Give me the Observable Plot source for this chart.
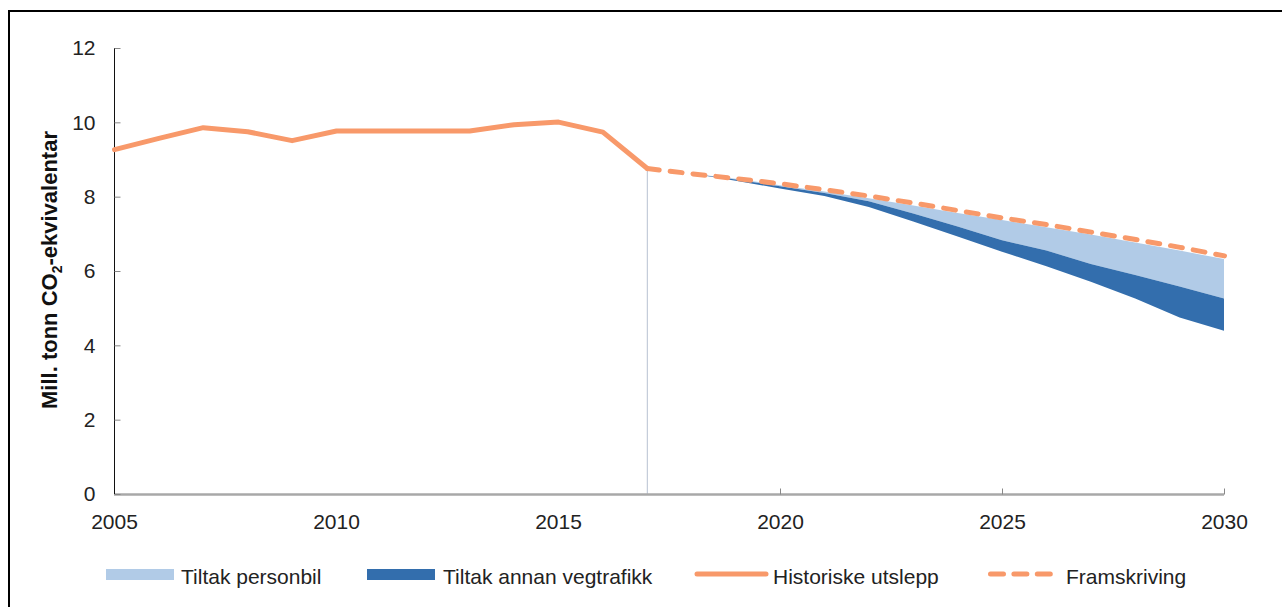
<!DOCTYPE html>
<html>
<head>
<meta charset="utf-8">
<script src="https://cdn.jsdelivr.net/npm/d3@7"></script>
<script src="https://cdn.jsdelivr.net/npm/@observablehq/plot@0.6"></script>
<style>
  html, body { margin: 0; padding: 0; background: #fff; }
  body { width: 1282px; height: 607px; position: relative; overflow: hidden;
         font-family: "Liberation Sans", Arial, sans-serif; color: #222; }
  #frame { position: absolute; left: 8px; top: 10px; width: 1400px; height: 800px;
           border: 2px solid #000; box-sizing: border-box; pointer-events: none; }
  #chart { position: absolute; left: 0; top: 0; }
  #legend { position: absolute; left: 0; top: 550px; }
</style>
</head>
<body>
<div id="chart"></div>
<div id="legend"></div>
<div id="frame"></div>
<script>
// ---- data ----
const histYears  = [2005, 2006, 2007, 2008, 2009, 2010, 2011, 2012, 2013, 2014, 2015, 2016, 2017];
const histValues = [9.28, 9.58, 9.87, 9.76, 9.52, 9.78, 9.78, 9.78, 9.78, 9.95, 10.02, 9.75, 8.77];

const projYears       = [2017, 2018, 2019, 2020, 2021, 2022, 2023, 2024, 2025, 2026, 2027, 2028, 2029, 2030];
const projValues      = [8.77, 8.63, 8.50, 8.36, 8.20, 8.03, 7.84, 7.64, 7.44, 7.26, 7.06, 6.86, 6.65, 6.42];
const personbilTop    = [8.77, 8.62, 8.48, 8.31, 8.14, 7.96, 7.76, 7.56, 7.37, 7.18, 6.98, 6.77, 6.55, 6.32];
const personbilBottom = [8.77, 8.62, 8.46, 8.28, 8.10, 7.88, 7.55, 7.20, 6.83, 6.55, 6.19, 5.89, 5.58, 5.26];
const annanBottom     = [8.77, 8.62, 8.43, 8.22, 8.02, 7.72, 7.33, 6.93, 6.52, 6.13, 5.71, 5.26, 4.75, 4.39];

const xTicks = [2005, 2010, 2015, 2020, 2025, 2030];
const xTickMarks = [2020, 2025, 2030];
const yTicks = [0, 2, 4, 6, 8, 10, 12];

const seriesNames = ["Tiltak personbil", "Tiltak annan vegtrafikk", "Historiske utslepp", "Framskriving"];
const yLabelParts = ["Mill. tonn CO", "2", "-ekvivalentar"];

// ---- colours ----
const cLight = "#b1cbe7", cDark = "#336ead", cLine = "#f8996a";

// ---- tables ----
const hist = histYears.map((year, i) => ({year, value: histValues[i]}));
const proj = projYears.map((year, i) => ({
  year, value: projValues[i], pt: personbilTop[i], pb: personbilBottom[i], ab: annanBottom[i]
}));

// short tick symbols drawn inward from the axes
const tickUp = {draw(ctx) { ctx.moveTo(0, 0); ctx.lineTo(0, -6); }};
const tickRight = {draw(ctx) { ctx.moveTo(0, 0); ctx.lineTo(6, 0); }};

const W = 1282, H = 550, mL = 114, mR = 58, mT = 48, mB = 56;
const xMin = xTicks[0], xMax = xTicks[xTicks.length - 1];

const chart = Plot.plot({
  width: W, height: H,
  marginLeft: mL, marginRight: mR, marginTop: mT, marginBottom: mB,
  style: {fontFamily: "'Liberation Sans', Arial, sans-serif", fontSize: "21px", color: "#222", background: "transparent", overflow: "visible"},
  x: {domain: [xMin, xMax]},
  y: {domain: [yTicks[0], yTicks[yTicks.length - 1]]},
  marks: [
    Plot.ruleX([histYears[histYears.length - 1]], {y1: 0, y2: histValues[histValues.length - 1], stroke: "#b7c1d1", strokeWidth: 1}),
    Plot.areaY(proj, {x: "year", y1: "pb", y2: "pt", fill: cLight}),
    Plot.areaY(proj, {x: "year", y1: "ab", y2: "pb", fill: cDark}),
    Plot.ruleY([0], {stroke: "#a8a8a8", strokeWidth: 2.5}),
    Plot.ruleX([xMin], {y1: yTicks[0], y2: yTicks[yTicks.length - 1], stroke: "#111", strokeWidth: 1}),
    Plot.dot(yTicks, {x: () => xMin, y: d => d, symbol: tickRight, r: 3, stroke: "#888", fill: "none", strokeWidth: 1}),
    Plot.dot(xTickMarks, {x: d => d, y: () => yTicks[0], symbol: tickUp, r: 3, stroke: "#888", fill: "none", strokeWidth: 1}),
    Plot.line(hist, {x: "year", y: "value", stroke: cLine, strokeWidth: 5, strokeLinejoin: "round", strokeLinecap: "round"}),
    Plot.line(proj, {x: "year", y: "value", stroke: cLine, strokeWidth: 5, strokeDasharray: "12,11", strokeLinecap: "round"}),
    Plot.axisY(yTicks, {tickSize: 0, tickPadding: 19, label: null, fontSize: 21}),
    Plot.axisX(xTicks, {tickSize: 0, tickPadding: 20, label: null, tickFormat: "d", fontSize: 21})
  ]
});
document.getElementById("chart").appendChild(chart);

// y-axis title with subscript
const svg = d3.select(chart.tagName.toLowerCase() === "svg" ? chart : chart.querySelector("svg"));
const yl = svg.append("text")
  .attr("transform", "translate(57,270) rotate(-90)")
  .attr("text-anchor", "middle")
  .attr("font-family", "'Liberation Sans', Arial, sans-serif")
  .attr("font-weight", "bold")
  .attr("font-size", 22)
  .attr("fill", "#111");
yl.append("tspan").text(yLabelParts[0]);
yl.append("tspan").attr("font-size", 14).attr("dy", 5).text(yLabelParts[1]);
yl.append("tspan").attr("dy", -5).text(yLabelParts[2]);

// legend
const lg = d3.select("#legend").append("svg").attr("width", W).attr("height", 57)
  .style("font-family", "'Liberation Sans', Arial, sans-serif").style("font-size", "21px");
const base = 34;
lg.append("rect").attr("x", 106).attr("y", 19).attr("width", 68).attr("height", 11).attr("fill", cLight);
lg.append("text").attr("x", 181).attr("y", base).attr("fill", "#222").text(seriesNames[0]);
lg.append("rect").attr("x", 367).attr("y", 19).attr("width", 68).attr("height", 11).attr("fill", cDark);
lg.append("text").attr("x", 443).attr("y", base).attr("fill", "#222").text(seriesNames[1]);
lg.append("line").attr("x1", 697).attr("x2", 766).attr("y1", 24).attr("y2", 24)
  .attr("stroke", cLine).attr("stroke-width", 5).attr("stroke-linecap", "round");
lg.append("text").attr("x", 773).attr("y", base).attr("fill", "#222").text(seriesNames[2]);
lg.append("line").attr("x1", 990.5).attr("x2", 1050.5).attr("y1", 24).attr("y2", 24)
  .attr("stroke", cLine).attr("stroke-width", 5).attr("stroke-linecap", "round").attr("stroke-dasharray", "13,10.4");
lg.append("text").attr("x", 1066).attr("y", base).attr("fill", "#222").text(seriesNames[3]);
</script>
</body>
</html>
